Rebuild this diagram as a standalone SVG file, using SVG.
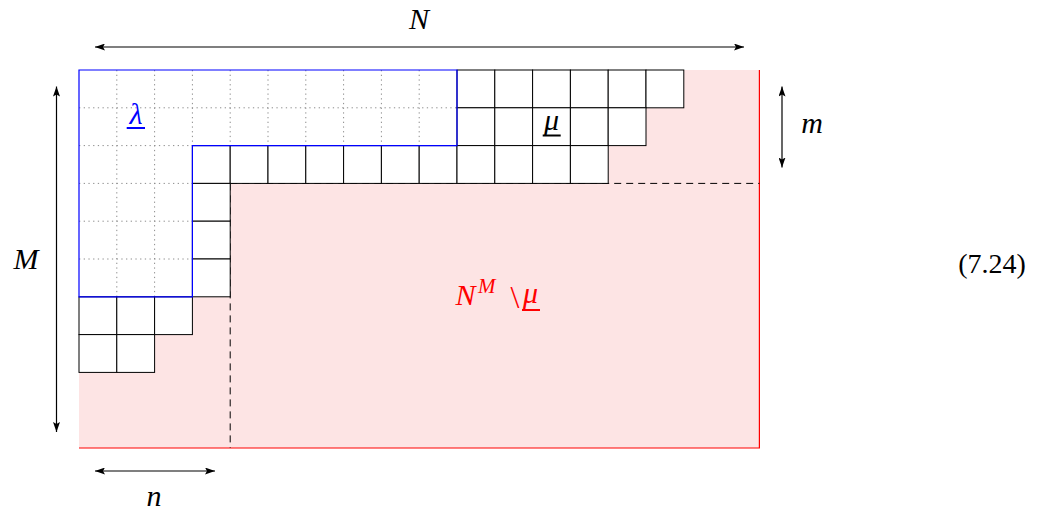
<svg xmlns="http://www.w3.org/2000/svg" width="1045" height="512" viewBox="0 0 1045 512">
<style>
  .math { font-family: "Liberation Serif", "DejaVu Serif", serif; font-style: italic; font-size: 30px; }
  .num { font-family: "Liberation Serif", "DejaVu Serif", serif; font-size: 28px; }
  .cell { fill: #ffffff; stroke: #000000; stroke-width: 1; }
  .dot { fill: none; stroke: #8c8c8c; stroke-width: 1; stroke-dasharray: 1.3 3.4; }
  .dash { fill: none; stroke: #000000; stroke-width: 1; stroke-dasharray: 7 5; }
  .dim { fill: none; stroke: #000000; stroke-width: 1.2; marker-start: url(#ah); marker-end: url(#ah); }
</style>
<defs>
  <marker id="ah" viewBox="0 0 10 7" refX="10" refY="3.5" markerWidth="10" markerHeight="7" markerUnits="userSpaceOnUse" orient="auto-start-reverse">
    <path d="M0,0 L10,3.5 L0,7 L2,3.5 z" fill="#000000"/>
  </marker>
</defs>
<rect width="1045" height="512" fill="#ffffff"/>

<g id="complement-region">
  <rect x="79" y="70" width="680.4" height="378" fill="#fde4e4"/>
  <path d="M759.4,70 V448 H79" fill="none" stroke="#ff0000" stroke-width="1.2"/>
</g>

<g id="guides">
  <path class="dash" d="M230.2,183.4 H759.4"/>
  <path class="dash" d="M230.2,183.4 V448"/>
</g>

<g id="lambda">
  <path d="M79,70 H457 V145.6 H192.4 V296.8 H79 Z" fill="#ffffff"/>
  <path class="dot" d="M116.8,70 V296.8 M154.6,70 V296.8 M192.4,70 V145.6 M230.2,70 V145.6 M268,70 V145.6 M305.8,70 V145.6 M343.6,70 V145.6 M381.4,70 V145.6 M419.2,70 V145.6 M79,107.8 H457 M79,145.6 H192.4 M79,183.4 H192.4 M79,221.2 H192.4 M79,259 H192.4"/>
</g>

<g id="mu">
  <rect class="cell" x="457" y="70" width="37.8" height="37.8"/>
  <rect class="cell" x="494.8" y="70" width="37.8" height="37.8"/>
  <rect class="cell" x="532.6" y="70" width="37.8" height="37.8"/>
  <rect class="cell" x="570.4" y="70" width="37.8" height="37.8"/>
  <rect class="cell" x="608.2" y="70" width="37.8" height="37.8"/>
  <rect class="cell" x="646" y="70" width="37.8" height="37.8"/>
  <rect class="cell" x="457" y="107.8" width="37.8" height="37.8"/>
  <rect class="cell" x="494.8" y="107.8" width="37.8" height="37.8"/>
  <rect class="cell" x="532.6" y="107.8" width="37.8" height="37.8"/>
  <rect class="cell" x="570.4" y="107.8" width="37.8" height="37.8"/>
  <rect class="cell" x="608.2" y="107.8" width="37.8" height="37.8"/>
  <rect class="cell" x="192.4" y="145.6" width="37.8" height="37.8"/>
  <rect class="cell" x="230.2" y="145.6" width="37.8" height="37.8"/>
  <rect class="cell" x="268" y="145.6" width="37.8" height="37.8"/>
  <rect class="cell" x="305.8" y="145.6" width="37.8" height="37.8"/>
  <rect class="cell" x="343.6" y="145.6" width="37.8" height="37.8"/>
  <rect class="cell" x="381.4" y="145.6" width="37.8" height="37.8"/>
  <rect class="cell" x="419.2" y="145.6" width="37.8" height="37.8"/>
  <rect class="cell" x="457" y="145.6" width="37.8" height="37.8"/>
  <rect class="cell" x="494.8" y="145.6" width="37.8" height="37.8"/>
  <rect class="cell" x="532.6" y="145.6" width="37.8" height="37.8"/>
  <rect class="cell" x="570.4" y="145.6" width="37.8" height="37.8"/>
  <rect class="cell" x="192.4" y="183.4" width="37.8" height="37.8"/>
  <rect class="cell" x="192.4" y="221.2" width="37.8" height="37.8"/>
  <rect class="cell" x="192.4" y="259" width="37.8" height="37.8"/>
  <rect class="cell" x="79" y="296.8" width="37.8" height="37.8"/>
  <rect class="cell" x="116.8" y="296.8" width="37.8" height="37.8"/>
  <rect class="cell" x="154.6" y="296.8" width="37.8" height="37.8"/>
  <rect class="cell" x="79" y="334.6" width="37.8" height="37.8"/>
  <rect class="cell" x="116.8" y="334.6" width="37.8" height="37.8"/>
</g>

<g id="lambda-outline">
  <path d="M79,70 H457 V145.6 H192.4 V296.8 H79 Z" fill="none" stroke="#0000ff" stroke-width="1.2"/>
</g>

<g id="connectors">
  <line class="dim" x1="95" y1="47" x2="744" y2="47"/>
  <line class="dim" x1="56.5" y1="86.5" x2="56.5" y2="432"/>
  <line class="dim" x1="782" y1="86.5" x2="782" y2="167.5"/>
  <line class="dim" x1="95" y1="471" x2="215" y2="471"/>
</g>

<g id="labels">
  <text class="math" x="419" y="29" text-anchor="middle">N</text>
  <text class="math" x="26" y="269" text-anchor="middle">M</text>
  <text class="math" x="812" y="133" text-anchor="middle">m</text>
  <text class="math" x="154" y="506" text-anchor="middle">n</text>
  <text class="num" x="992" y="273" text-anchor="middle">(7.24)</text>
  <text class="math" x="136" y="124" text-anchor="middle" fill="#0000ff">λ</text>
  <line x1="126.7" y1="128" x2="145" y2="128" stroke="#0000ff" stroke-width="2"/>
  <text class="math" x="551.5" y="130" text-anchor="middle">μ</text>
  <line x1="542.7" y1="135.5" x2="560.7" y2="135.5" stroke="#000000" stroke-width="2"/>
  <text class="math" x="465.5" y="305" text-anchor="middle" fill="#ff0000">N</text>
  <text class="math" x="478" y="293" fill="#ff0000" style="font-size:21px">M</text>
  <text class="num" x="515" y="308" text-anchor="middle" fill="#ff0000" style="font-size:32px">\</text>
  <text class="math" x="530.5" y="303" text-anchor="middle" fill="#ff0000">μ</text>
  <line x1="522" y1="310" x2="540" y2="310" stroke="#ff0000" stroke-width="2"/>
</g>
</svg>
